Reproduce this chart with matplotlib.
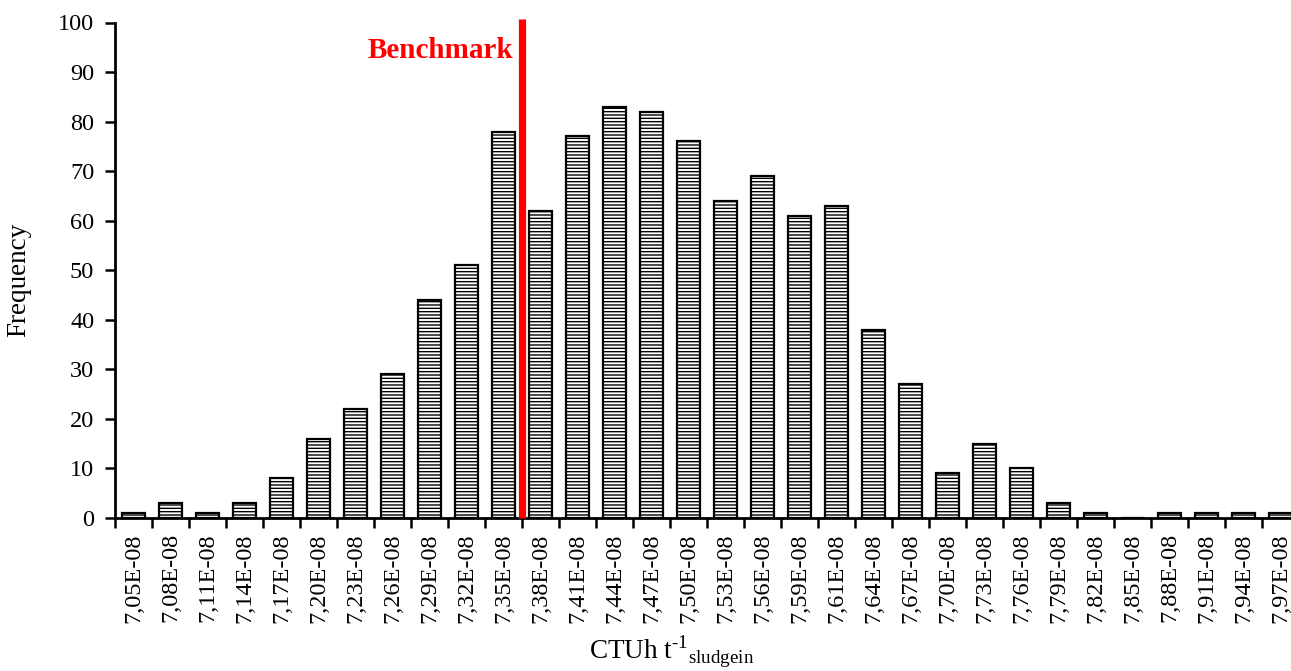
import numpy as np
from matplotlib import pyplot as plt

plt.rcParams['font.family'] = 'Liberation Serif'
plt.rcParams['mathtext.fontset'] = 'custom'
plt.rcParams['mathtext.rm'] = 'Liberation Serif'
plt.rcParams['hatch.linewidth'] = 1.0

# clases del histograma (CTUh por tonelada de lodo) y su frecuencia
clases = ["7,05E-08", "7,08E-08", "7,11E-08", "7,14E-08", "7,17E-08", "7,20E-08",
          "7,23E-08", "7,26E-08", "7,29E-08", "7,32E-08", "7,35E-08", "7,38E-08",
          "7,41E-08", "7,44E-08", "7,47E-08", "7,50E-08", "7,53E-08", "7,56E-08",
          "7,59E-08", "7,61E-08", "7,64E-08", "7,67E-08", "7,70E-08", "7,73E-08",
          "7,76E-08", "7,79E-08", "7,82E-08", "7,85E-08", "7,88E-08", "7,91E-08",
          "7,94E-08", "7,97E-08"]
frecuencia = [1, 3, 1, 3, 8, 16, 22, 29, 44, 51, 78, 62, 77, 83, 82, 76, 64, 69,
              61, 63, 38, 27, 9, 15, 10, 3, 1, 0, 1, 1, 1, 1]
# posicion del benchmark: entre 7,35E-08 y 7,38E-08
benchmark = 10.5

fig = plt.figure(figsize=(12.91, 6.71), dpi=100)
ax = fig.add_axes([115/1291, 153/671, 1184/1291, 495.5/671])

x = np.arange(len(clases))
ax.bar(x, frecuencia, width=0.6, color='white', edgecolor='black',
       linewidth=1.6, hatch='-----')

# linea roja del benchmark
ax.plot([benchmark, benchmark], [0, 100.8], color='red', linewidth=5.2,
        clip_on=False, solid_capstyle='butt', zorder=5)
ax.text(benchmark - 0.25, 92.8, "Benchmark", color='red', fontsize=21,
        fontweight='bold', ha='right', va='baseline')

ax.set_xlim(-0.5, len(clases) - 0.5)
ax.set_ylim(0, 100)
ax.set_yticks(np.arange(0, 101, 10))
ax.set_xticks(x)
ax.set_xticklabels(clases, rotation=90, fontsize=17.5)
ax.tick_params(axis='x', length=0, pad=11)
ax.set_xticks(np.arange(-0.5, len(clases), 1), minor=True)
ax.tick_params(axis='x', which='minor', length=7, width=1.8, direction='out')
ax.tick_params(axis='y', labelsize=17.5, length=7, width=1.8, pad=8)

for s in ['top', 'right']:
    ax.spines[s].set_visible(False)
for s in ['left', 'bottom']:
    ax.spines[s].set_linewidth(2)

ax.set_ylabel("Frequency", fontsize=19.5)
ax.yaxis.set_label_coords(-0.071, 0.48)
# superindice -1 y luego el subindice, uno detras del otro
fig.text(672/1291, 12/671, r"CTUh t$^{\text{-1}}$$_{\mathrm{sludgein}}$",
         fontsize=19.5, ha='center', va='baseline')

plt.savefig("out.png", dpi=100)
